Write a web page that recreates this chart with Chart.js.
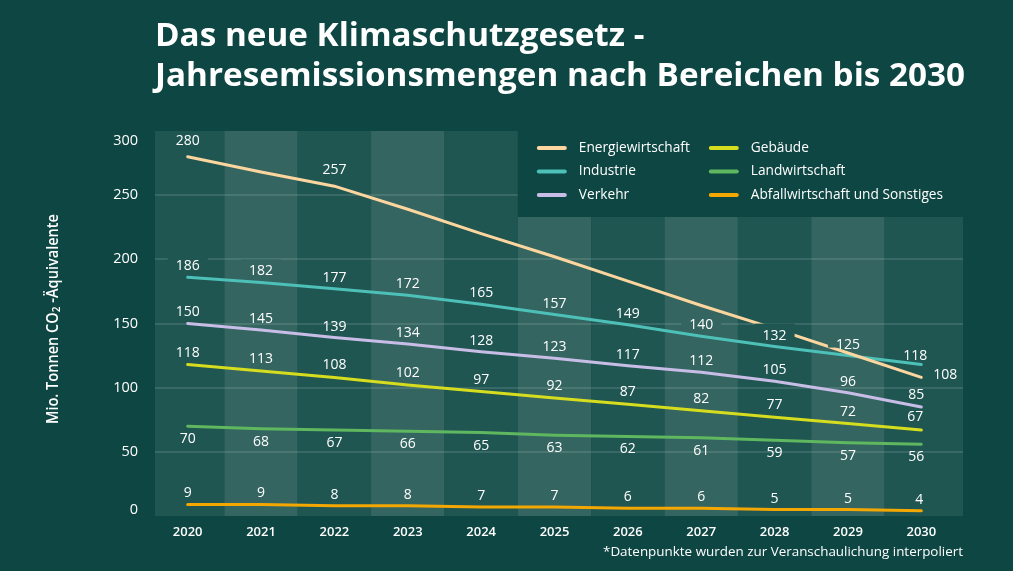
<!DOCTYPE html>
<html lang="de">
<head>
<meta charset="utf-8">
<title>Klimaschutzgesetz – Jahresemissionsmengen</title>
<script src="https://cdn.jsdelivr.net/npm/chart.js@4.4.1/dist/chart.umd.min.js"></script>
<style>
  html, body { margin: 0; padding: 0; background: #0d4642; width: 1013px; height: 571px; overflow: hidden; }
  #wrap { position: relative; width: 1013px; height: 571px; }
  #chart { position: absolute; left: 0; top: 0; }
  #title { position: absolute; left: 155px; top: 14px; color: #ffffff; font-family: 'Open Sans', 'Noto Sans', sans-serif;
           font-weight: 700; font-size: 32px; line-height: 40px; white-space: nowrap; transform-origin: 0 0; }
  #title span { display: inline-block; }
</style>
</head>
<body>
<div id="wrap">
  <canvas id="chart" width="1013" height="571"></canvas>
  <div id="title"><span id="t1">Das neue Klimaschutzgesetz -</span><br><span id="t2">Jahresemissionsmengen nach Bereichen bis 2030</span></div>
</div>
<script>
// ---------------- DATA ----------------
const years = ['2020','2021','2022','2023','2024','2025','2026','2027','2028','2029','2030'];
const seriesNames = ['Energiewirtschaft','Industrie','Verkehr','Gebäude','Landwirtschaft','Abfallwirtschaft und Sonstiges'];
const energiewirtschaft = [280, 268, 257, 239, 220, 202, 183, 164, 146, 127, 108];
const energiewirtschaftLabels = ['280','','257','','','','','','','','108'];
const industrie = [186, 182, 177, 172, 165, 157, 149, 140, 132, 125, 118];
const verkehr = [150, 145, 139, 134, 128, 123, 117, 112, 105, 96, 85];
const gebaeude = [118, 113, 108, 102, 97, 92, 87, 82, 77, 72, 67];
const landwirtschaft = [70, 68, 67, 66, 65, 63, 62, 61, 59, 57, 56];
const abfall = [9, 9, 8, 8, 7, 7, 6, 6, 5, 5, 4];
const yTicks = [0, 50, 100, 150, 200, 250, 300];
const yTitleParts = ['Mio. Tonnen CO', '2', ' -Äquivalente'];
const footnote = '*Datenpunkte wurden zur Veranschaulichung interpoliert';

// ---------------- STYLE ----------------
const FONT = "'Open Sans', 'Noto Sans', sans-serif";
const PAGE_BG = '#0d4642';
const COL_DARK = '#1f5652';
const COL_LIGHT = '#346560';
const GRID = 'rgba(255,255,255,0.16)';
const lineColors = ['#fcd69e', '#4dc0b8', '#c8bde6', '#d6dc1e', '#5fb75f', '#f4a700'];

const valueLists = [energiewirtschaft, industrie, verkehr, gebaeude, landwirtschaft, abfall];
const labelLists = [energiewirtschaftLabels, industrie.map(String), verkehr.map(String), gebaeude.map(String), landwirtschaft.map(String), abfall.map(String)];
// label placement styles (offsets from each point)
const labelStyles = [
  { dy: -16, last: { dx: 12, dy: -2, align: 'left' } },
  { dy: -11, bg: true, last: { dx: -6, dy: -9 } },
  { dy: -11, last: { dx: -5, dy: -12 } },
  { dy: -12, last: { dx: -6, dy: -13 } },
  { dy: 13, last: { dx: -5, dy: 13 } },
  { dy: -11, last: { dx: -2, dy: -11 } }
];

function fitText(ctx, text, x, y, align, maxW) {
  const w = ctx.measureText(text).width;
  const s = (maxW && w > maxW) ? maxW / w : 1;
  ctx.save();
  ctx.translate(x, y);
  ctx.scale(s, 1);
  ctx.textAlign = align;
  ctx.fillText(text, 0, 0);
  ctx.restore();
}

const backdrop = {
  id: 'backdrop',
  beforeDraw(chart) {
    const { ctx, chartArea: ca, scales: { x, y } } = chart;
    ctx.save();
    ctx.fillStyle = PAGE_BG;
    ctx.fillRect(0, 0, chart.width, chart.height);
    const n = years.length;
    const half = (x.getPixelForValue(1) - x.getPixelForValue(0)) / 2;
    for (let i = 0; i < n; i++) {
      const cx = x.getPixelForValue(i);
      const l = i === 0 ? ca.left + 4 : cx - half;
      const r = i === n - 1 ? ca.right + 5 : cx + half;
      ctx.fillStyle = i % 2 ? COL_LIGHT : COL_DARK;
      ctx.fillRect(l, ca.top, r - l, ca.bottom - ca.top);
    }
    // grid lines
    ctx.strokeStyle = GRID;
    ctx.lineWidth = 1.5;
    yTicks.forEach(v => {
      if (v <= 0 || v >= 300) return;
      const yy = Math.round(y.getPixelForValue(v));
      ctx.beginPath();
      ctx.moveTo(ca.left + 4, yy);
      ctx.lineTo(ca.right + 5, yy);
      ctx.stroke();
    });
    // legend box
    const L = x.getPixelForValue(4) + half;
    const T = ca.top - 1;
    ctx.fillStyle = PAGE_BG;
    ctx.fillRect(L, T, ca.right + 5 - L, 87);
    ctx.font = '500 14px ' + FONT;
    const s = Math.min(1, 111 / ctx.measureText('Energiewirtschaft').width);
    ctx.textBaseline = 'middle';
    seriesNames.forEach((name, k) => {
      const col = Math.floor(k / 3), row = k % 3;
      const sx = L + 21 + col * 172;
      const sy = T + 18 + row * 23.5;
      ctx.strokeStyle = lineColors[k];
      ctx.lineWidth = 4;
      ctx.lineCap = 'round';
      ctx.beginPath();
      ctx.moveTo(sx, sy);
      ctx.lineTo(sx + 26, sy);
      ctx.stroke();
      ctx.fillStyle = '#ffffff';
      ctx.save();
      ctx.translate(sx + 40, sy);
      ctx.scale(s, 1);
      ctx.textAlign = 'left';
      ctx.fillText(name, 0, 0);
      ctx.restore();
    });
    // y tick labels
    ctx.fillStyle = '#ffffff';
    ctx.font = '500 14.5px ' + FONT;
    ctx.textBaseline = 'middle';
    ctx.textAlign = 'right';
    yTicks.forEach(v => {
      let yy = y.getPixelForValue(v);
      yy = Math.max(ca.top + 10, Math.min(ca.bottom - 6, yy));
      ctx.fillText(String(v), ca.left - 13, yy);
    });
    // y axis title
    ctx.save();
    ctx.translate(53, 319);
    ctx.rotate(-Math.PI / 2);
    const fBig = '600 16px ' + FONT, fSmall = '600 11px ' + FONT;
    ctx.font = fBig; const w0 = ctx.measureText(yTitleParts[0]).width;
    ctx.font = fSmall; const w1 = ctx.measureText(yTitleParts[1]).width;
    ctx.font = fBig; const w2 = ctx.measureText(yTitleParts[2]).width;
    const total = w0 + w1 + w2;
    const sc = Math.min(1, 210 / total);
    ctx.scale(sc, 1);
    ctx.textAlign = 'left';
    ctx.textBaseline = 'middle';
    let px = -total / 2;
    ctx.font = fBig; ctx.fillText(yTitleParts[0], px, 0); px += w0;
    ctx.font = fSmall; ctx.fillText(yTitleParts[1], px, 4); px += w1;
    ctx.font = fBig; ctx.fillText(yTitleParts[2], px, 0);
    ctx.restore();
    // footnote
    ctx.font = '500 13.5px ' + FONT;
    ctx.textBaseline = 'middle';
    fitText(ctx, footnote, ca.right + 5, 552, 'right', 360);
    ctx.restore();
  }
};

const dataLabels = {
  id: 'dataLabels',
  afterDatasetsDraw(chart) {
    const { ctx } = chart;
    ctx.save();
    ctx.font = '500 14px ' + FONT;
    ctx.textBaseline = 'middle';
    const n = years.length;
    labelLists.forEach((labels, d) => {
      const meta = chart.getDatasetMeta(d);
      const st = labelStyles[d];
      labels.forEach((txt, i) => {
        if (!txt) return;
        const pt = meta.data[i];
        const o = (i === n - 1 && st.last) ? st.last : { dx: 0, dy: st.dy, align: 'center' };
        const align = o.align || 'center';
        const tx = pt.x + (o.dx || 0);
        const ty = pt.y + o.dy;
        const w = ctx.measureText(txt).width;
        if (st.bg) {
          const left = align === 'left' ? tx : tx - w / 2;
          ctx.fillStyle = i % 2 ? COL_LIGHT : COL_DARK;
          ctx.fillRect(left - 8, ty - 12, w + 16, 15);
        }
        ctx.fillStyle = '#ffffff';
        ctx.textAlign = align;
        ctx.fillText(txt, tx, ty);
      });
    });
    ctx.restore();
  }
};

new Chart(document.getElementById('chart'), {
  type: 'line',
  data: {
    labels: years,
    datasets: valueLists.map((vals, k) => ({
      label: seriesNames[k],
      data: vals,
      borderColor: lineColors[k],
      backgroundColor: lineColors[k],
      borderWidth: 3,
      pointRadius: 0,
      pointHoverRadius: 0,
      tension: 0,
      borderCapStyle: 'round',
      fill: false
    }))
  },
  options: {
    responsive: false,
    animation: false,
    devicePixelRatio: 1,
    layout: { padding: { top: 131, left: 151, right: 55, bottom: 0 } },
    plugins: { legend: { display: false }, tooltip: { enabled: false }, title: { display: false } },
    scales: {
      x: {
        type: 'category',
        offset: true,
        grid: { display: false, drawTicks: false },
        border: { display: false },
        ticks: { color: '#ffffff', font: { family: FONT, size: 13, weight: '600' }, padding: 8, maxRotation: 0, autoSkip: false },
        afterFit(s) { s.height = 55; }
      },
      y: {
        display: false,
        min: 0,
        max: 300
      }
    }
  },
  plugins: [backdrop, dataLabels]
});

// fit title to reference width
(function () {
  const t2 = document.getElementById('t2');
  const w = t2.getBoundingClientRect().width;
  const s = 810 / w;
  document.getElementById('title').style.transform = 'scaleX(' + s.toFixed(4) + ')';
})();
</script>
</body>
</html>
